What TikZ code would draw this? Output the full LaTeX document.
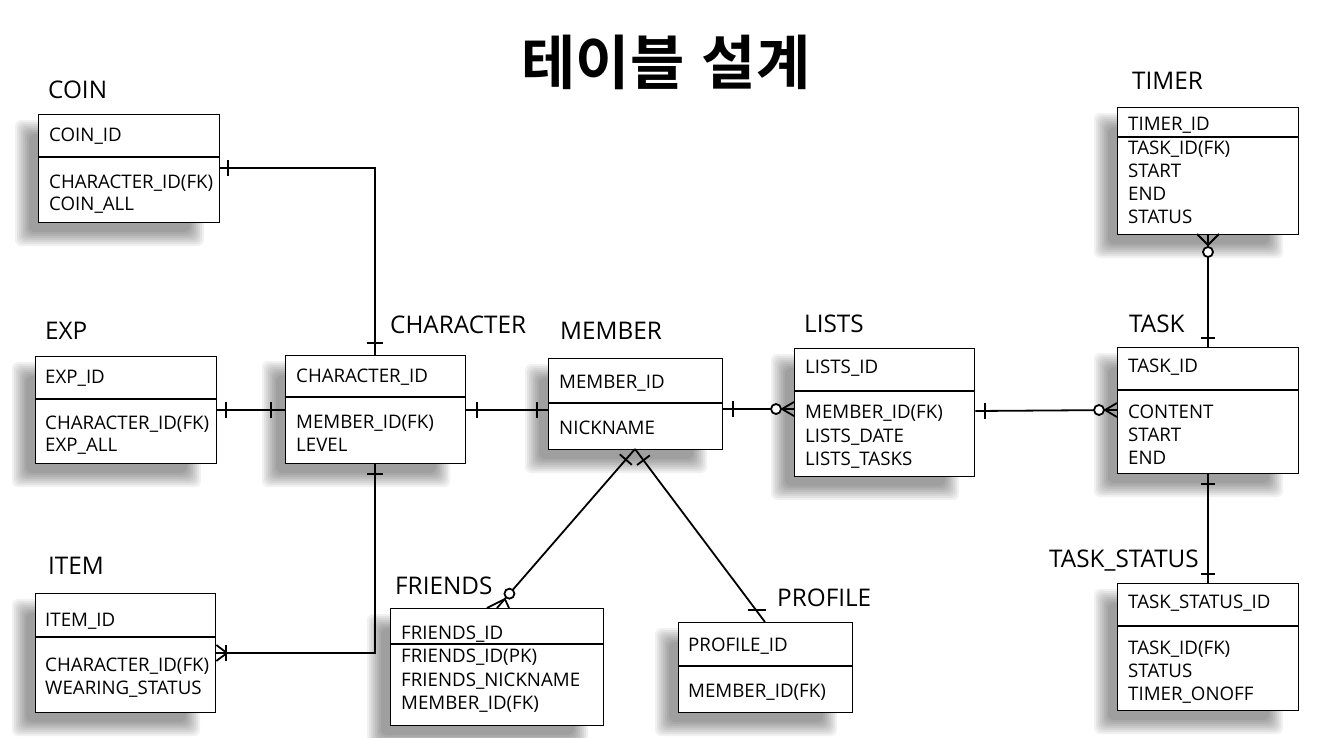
\documentclass[tikz,border=0pt]{standalone}
\usepackage{fontspec}
\setmainfont{Open Sans}
\newfontfamily\krfont{Noto Sans CJK KR Bold}
\usetikzlibrary{calc}
% soft drop shadow: box corners (x1,y1) (x2,y2), y downward
\newcommand\tblshadow[4]{%
  \foreach \d in {9,7,5,3,1,-1,-3,-5}{%
    \fill[shadowlayer] (#1-14-\d,#2+15-\d) rectangle (#3-24+\d,#4+15+\d);}}
\begin{document}
\begin{tikzpicture}[x=1pt,y=-1pt,
  shadowlayer/.style={black, opacity=0.055, rounded corners=6pt},
  tbl/.style={draw, line width=1.3pt, fill=white, anchor=north west, inner sep=0pt},
  divline/.style={line width=1.8pt},
  fld/.style={anchor=base west, inner sep=0pt, font=\fontsize{18.7}{20}\selectfont},
  lbl/.style={anchor=base west, inner sep=0pt, font=\fontsize{24.3}{26}\selectfont},
  conn/.style={line width=1.8pt},
  ermark/.style={line width=1.8pt},
]
\useasboundingbox (0,0) rectangle (1318,737);
\fill[white] (0,0) rectangle (1318,737);

\node[font=\krfont\fontsize{59}{62}\selectfont, inner sep=0pt] (title) at (666,62) {테이블\hspace{4pt} 설계};

% shadows
\tblshadow{38}{114}{219}{222}
\tblshadow{35}{356}{216}{463}
\tblshadow{285}{355}{465}{463}
\tblshadow{548}{358}{722}{449}
\tblshadow{794}{348}{974}{476}
\tblshadow{1117}{347}{1298}{473}
\tblshadow{1117}{107}{1298}{234}
\tblshadow{1117}{583}{1298}{710}
\tblshadow{35}{593}{215}{712}
\tblshadow{390}{608}{603}{725}
\tblshadow{678}{622}{852}{712}

% tables
\node[tbl, minimum width=181pt, minimum height=108pt] (coin) at (38,114) {};
\node[tbl, minimum width=181pt, minimum height=107pt] (exp) at (35,356) {};
\node[tbl, minimum width=180pt, minimum height=108pt] (character) at (285,355) {};
\node[tbl, minimum width=174pt, minimum height=91pt] (member) at (548,358) {};
\node[tbl, minimum width=180pt, minimum height=128pt] (lists) at (794,348) {};
\node[tbl, minimum width=181pt, minimum height=126pt] (task) at (1117,347) {};
\node[tbl, minimum width=181pt, minimum height=127pt] (timer) at (1117,107) {};
\node[tbl, minimum width=181pt, minimum height=127pt] (taskstatus) at (1117,583) {};
\node[tbl, minimum width=180pt, minimum height=119pt] (item) at (35,593) {};
\node[tbl, minimum width=213pt, minimum height=117pt] (friends) at (390,608) {};
\node[tbl, minimum width=174pt, minimum height=90pt] (profile) at (678,622) {};

% dividers
\draw[divline] (coin.west |- 0,157) -- (coin.east |- 0,157);
\draw[divline] (exp.west |- 0,399) -- (exp.east |- 0,399);
\draw[divline] (character.west |- 0,397) -- (character.east |- 0,397);
\draw[divline] (member.west |- 0,403) -- (member.east |- 0,403);
\draw[divline] (lists.west |- 0,391) -- (lists.east |- 0,391);
\draw[divline] (task.west |- 0,390) -- (task.east |- 0,390);
\draw[divline] (timer.west |- 0,137) -- (timer.east |- 0,137);
\draw[divline] (taskstatus.west |- 0,626) -- (taskstatus.east |- 0,626);
\draw[divline] (item.west |- 0,637) -- (item.east |- 0,637);
\draw[divline] (friends.west |- 0,644) -- (friends.east |- 0,644);
\draw[divline] (profile.west |- 0,666) -- (profile.east |- 0,666);

% labels
\node[lbl] (coinL) at (48,98.5) {COIN};
\node[lbl] (expL) at (45,339.5) {EXP};
\node[lbl] (characterL) at (390,333.5) {CHARACTER};
\node[lbl] (memberL) at (560,339.5) {MEMBER};
\node[lbl] (listsL) at (804,332.5) {LISTS};
\node[lbl] (taskL) at (1129,332.5) {TASK};
\node[lbl] (timerL) at (1132,89.5) {TIMER};
\node[lbl] (taskstatusL) at (1049,567.5) {TASK\_STATUS};
\node[lbl] (itemL) at (48,574.5) {ITEM};
\node[lbl] (friendsL) at (395,594.5) {FRIENDS};
\node[lbl] (profileL) at (777,606.5) {PROFILE};

% fields
\node[fld] (coin1) at (49,141.5) {COIN\_ID};
\node[fld] (coin2) at (49,188.5) {CHARACTER\_ID(FK)};
\node[fld] (coin3) at (49,210.5) {COIN\_ALL};

\node[fld] (exp1) at (45,383.5) {EXP\_ID};
\node[fld] (exp2) at (45,429.5) {CHARACTER\_ID(FK)};
\node[fld] (exp3) at (45,451.5) {EXP\_ALL};

\node[fld] (char1) at (296,382.5) {CHARACTER\_ID};
\node[fld] (char2) at (296,428.5) {MEMBER\_ID(FK)};
\node[fld] (char3) at (296,451.5) {LEVEL};

\node[fld] (mem1) at (559,388.5) {MEMBER\_ID};
\node[fld] (mem2) at (559,434.5) {NICKNAME};

\node[fld] (lists1) at (805,373.5) {LISTS\_ID};
\node[fld] (lists2) at (805,418.5) {MEMBER\_ID(FK)};
\node[fld] (lists3) at (805,442.5) {LISTS\_DATE};
\node[fld] (lists4) at (805,465.5) {LISTS\_TASKS};

\node[fld] (task1) at (1128,372.5) {TASK\_ID};
\node[fld] (task2) at (1128,418.5) {CONTENT};
\node[fld] (task3) at (1128,441.5) {START};
\node[fld] (task4) at (1128,464.5) {END};

\node[fld] (timer1) at (1128,130.5) {TIMER\_ID};
\node[fld] (timer2) at (1128,154.5) {TASK\_ID(FK)};
\node[fld] (timer3) at (1128,177.5) {START};
\node[fld] (timer4) at (1128,200.5) {END};
\node[fld] (timer5) at (1128,223.5) {STATUS};

\node[fld] (ts1) at (1128,608.5) {TASK\_STATUS\_ID};
\node[fld] (ts2) at (1128,654.5) {TASK\_ID(FK)};
\node[fld] (ts3) at (1128,677.5) {STATUS};
\node[fld] (ts4) at (1128,700.5) {TIMER\_ONOFF};

\node[fld] (item1) at (45,626.5) {ITEM\_ID};
\node[fld] (item2) at (45,671.5) {CHARACTER\_ID(FK)};
\node[fld] (item3) at (45,694.5) {WEARING\_STATUS};

\node[fld] (fr1) at (401,639.5) {FRIENDS\_ID};
\node[fld] (fr2) at (401,662.5) {FRIENDS\_ID(PK)};
\node[fld] (fr3) at (401,686.5) {FRIENDS\_NICKNAME};
\node[fld] (fr4) at (401,709.5) {MEMBER\_ID(FK)};

\node[fld] (prof1) at (688,651.5) {PROFILE\_ID};
\node[fld] (prof2) at (688,697.5) {MEMBER\_ID(FK)};

% ---------- connectors ----------
% COIN - CHARACTER
\draw[conn] (coin.east |- 0,168) -| (character.north -| 375,0);
\draw[ermark] (228,160) -- (228,176);
\draw[ermark] (367,343) -- (383,343);

% EXP - CHARACTER
\draw[conn] (exp.east |- 0,410) -- (character.west |- 0,410);
\draw[ermark] (226,402) -- (226,418);
\draw[ermark] (271,402) -- (271,418);

% CHARACTER - MEMBER
\draw[conn] (character.east |- 0,410) -- (member.west |- 0,410);
\draw[ermark] (477,402) -- (477,418);
\draw[ermark] (537,402) -- (537,418);

% CHARACTER - ITEM
\draw[conn] (character.south -| 375,0) |- (item.east |- 0,653);
\draw[ermark] (367,474) -- (383,474);
\draw[ermark] (226,645) -- (226,661);
\draw[ermark] (227,653) -- (item.east |- 0,645);
\draw[ermark] (227,653) -- (item.east |- 0,661);

% MEMBER - LISTS
\draw[conn] (member.east |- 0,409) -- (lists.west |- 0,409);
\draw[ermark] (733,401) -- (733,417);
\draw[ermark, fill=white] (776,409) circle (5);
\draw[ermark] (782,409) -- (lists.west |- 0,402);
\draw[ermark] (782,409) -- (lists.west |- 0,416);

% LISTS - TASK
\draw[conn] (lists.east |- 0,411) -- (task.west |- 0,410);
\draw[ermark] (985,403) -- (985,419);
\draw[ermark, fill=white] (1099,410) circle (5);
\draw[ermark] (1105,410) -- (task.west |- 0,403);
\draw[ermark] (1105,410) -- (task.west |- 0,417);

% TIMER - TASK
\draw[conn] (timer.south -| 1208,0) -- (task.north -| 1208,0);
\draw[ermark] (1197,234) -- (1208,245) -- (1219,234);
\draw[ermark, fill=white] (1208,252) circle (5);
\draw[ermark] (1201,338) -- (1215,338);

% TASK - TASK_STATUS
\draw[conn] (task.south -| 1208,0) -- (taskstatus.north -| 1208,0);
\draw[ermark] (1201,484) -- (1215,484);
\draw[ermark] (1201,574) -- (1215,574);

% MEMBER - FRIENDS
\coordinate (mb) at (635,449);
\coordinate (fe) at (friends.north -| 497,0);
\draw[conn] (mb) -- (fe);
\coordinate (t1) at ($(mb)!14pt!(fe)$);
\draw[ermark] ($(t1)!8pt!90:(fe)$) -- ($(t1)!8pt!-90:(fe)$);
\coordinate (fc) at ($(fe)!19pt!(mb)$);
\draw[ermark, fill=white] (fc) circle (5);
\coordinate (fk) at ($(fe)!12pt!(mb)$);
\draw[ermark] (friends.north -| 487,0) -- (fk) -- (friends.north -| 509,0);

% MEMBER - PROFILE
\coordinate (pe) at (profile.north -| 765,0);
\draw[conn] (mb) -- (pe);
\coordinate (t2) at ($(mb)!14pt!(pe)$);
\draw[ermark] ($(t2)!8pt!90:(pe)$) -- ($(t2)!8pt!-90:(pe)$);
\draw[ermark] (748,610) -- (766,610);
\end{tikzpicture}
\end{document}
